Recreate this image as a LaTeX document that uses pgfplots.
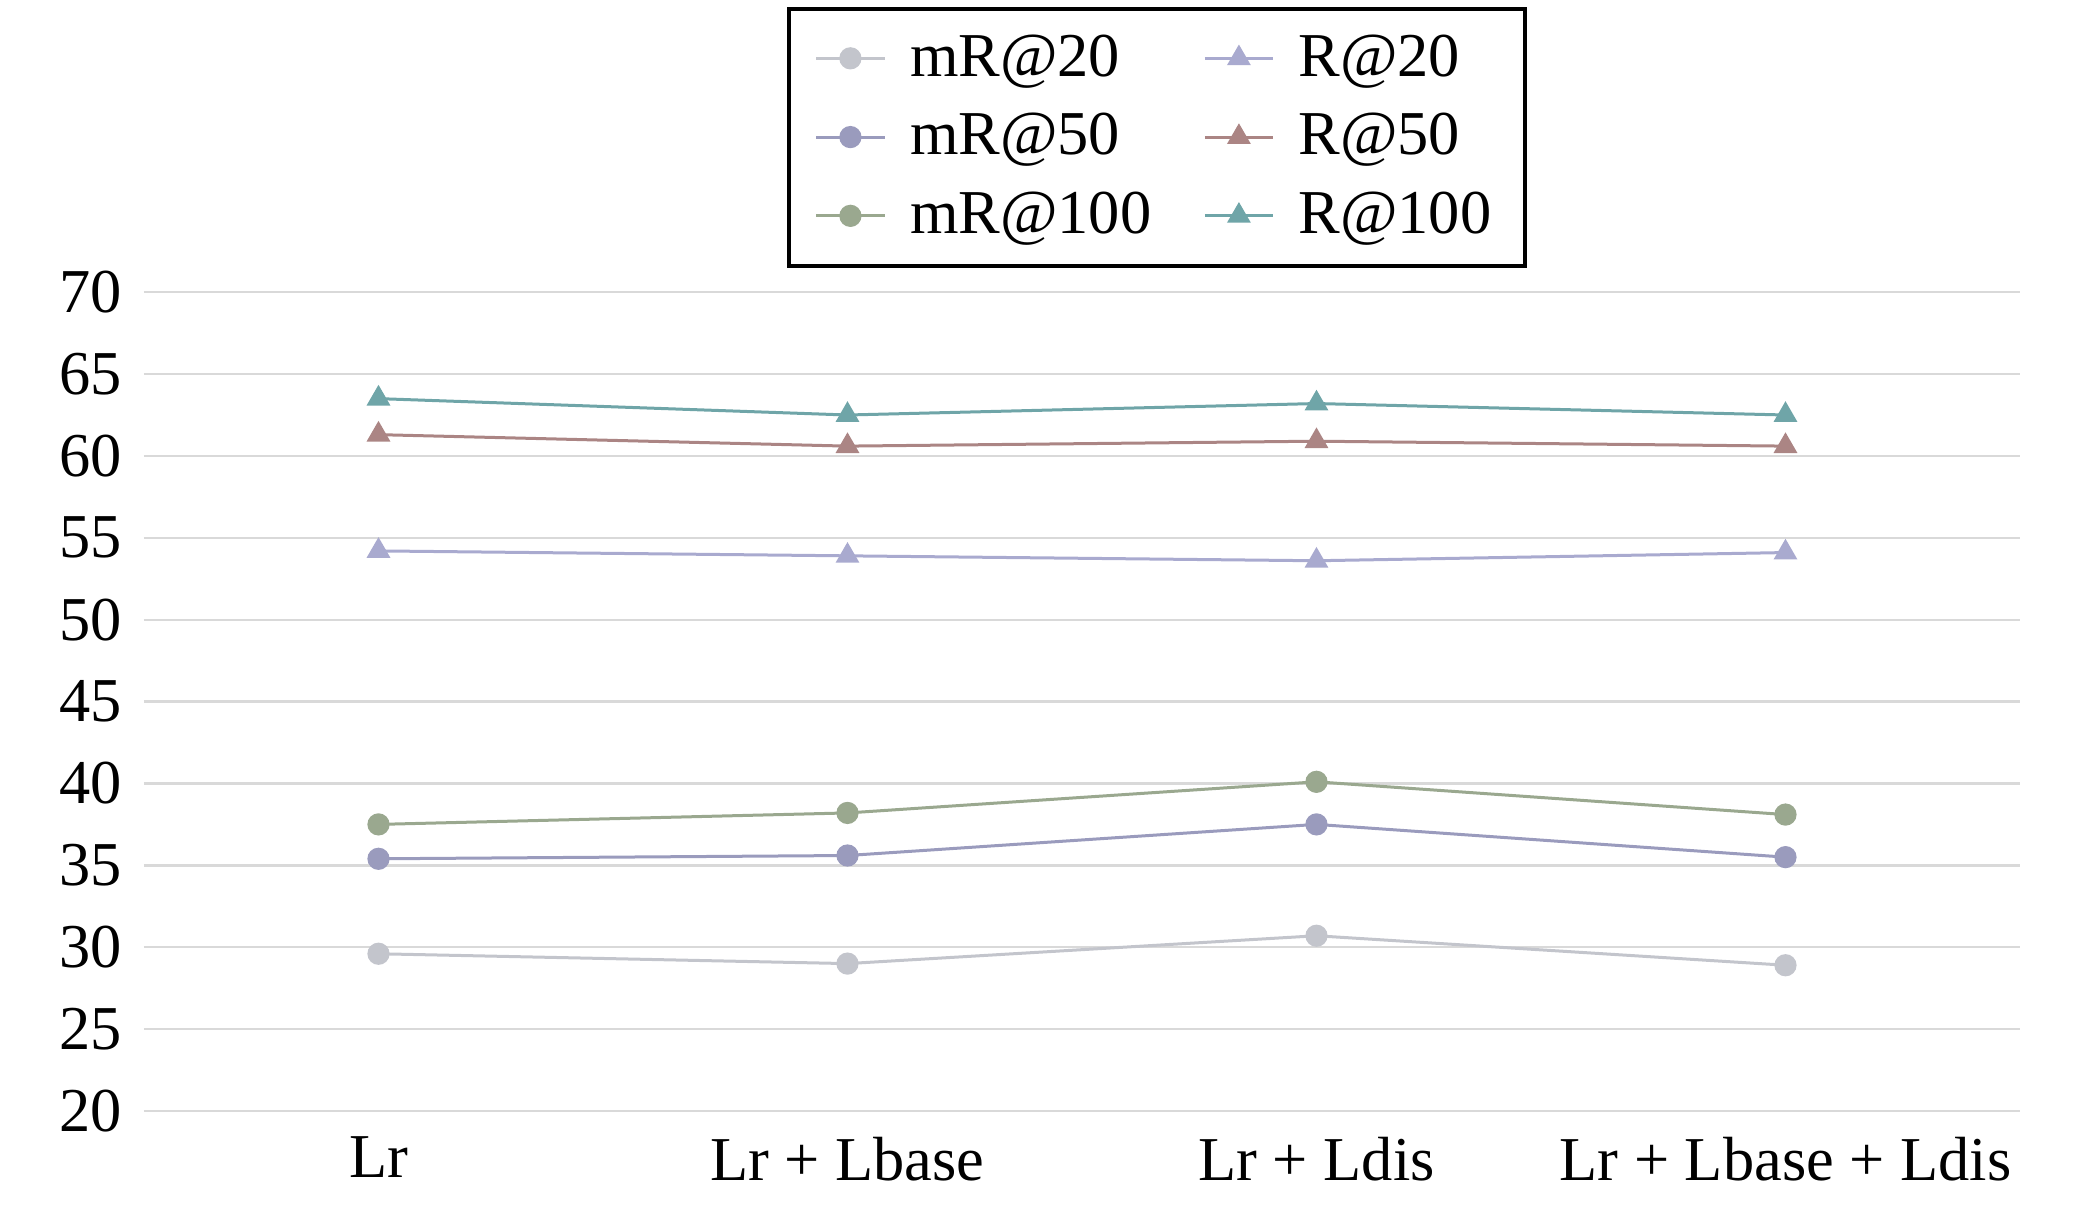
\documentclass[border=0pt]{standalone}
\usepackage{fontspec}
\setmainfont{Liberation Serif}
\usepackage{pgfplots}
\pgfplotsset{compat=1.18}
\definecolor{cA}{HTML}{C3C5CC}
\definecolor{cB}{HTML}{A9AACF}
\definecolor{cC}{HTML}{9A9BBD}
\definecolor{cD}{HTML}{AB8584}
\definecolor{cE}{HTML}{9AA88F}
\definecolor{cF}{HTML}{6FA5A8}
\definecolor{gridc}{HTML}{D9D9D9}
\begin{document}
\begin{tikzpicture}
\useasboundingbox (-36pt,-23.5pt) rectangle (483.75pt,277.75pt);
\begin{axis}[
  scale only axis,
  width=469pt, height=204.7pt,
  xmin=-0.5, xmax=3.5,
  ymin=20, ymax=70,
  ytick={20,25,...,70},
  xtick={0,1,2,3},
  xticklabels={Lr, Lr + Lbase, Lr + Ldis, Lr + Lbase + Ldis},
  axis line style={draw=none},
  major tick length=0pt,
  ymajorgrids,
  grid style={gridc, line width=0.6pt},
  /pgf/number format/assume math mode=true,
  tick label style={font=\fontsize{15.6}{18}\selectfont, text=black},
  yticklabel style={xshift=-2pt},
  xticklabel style={yshift=-3pt},
  legend columns=2,
  legend cell align=left,
  legend style={
    at={(0.54,1.03)}, anchor=south,
    draw=black, line width=1pt,
    font=\fontsize{15.6}{18}\selectfont,
    inner xsep=6.5pt, inner ysep=4.5pt,
    row sep=3.8pt,
    /tikz/every odd column/.append style={column sep=4pt},
    /tikz/every even column/.append style={column sep=11pt},
  },
  every axis plot/.append style={line width=0.75pt},
]
\addplot[cA, mark=*, mark size=2.4pt] coordinates {(0,29.6) (1,29.0) (2,30.7) (3,28.9)};
\addlegendentry{mR@20}
\addplot[cB, mark=triangle*, mark size=2.7pt] coordinates {(0,54.2) (1,53.9) (2,53.6) (3,54.1)};
\addlegendentry{R@20}
\addplot[cC, mark=*, mark size=2.4pt] coordinates {(0,35.4) (1,35.6) (2,37.5) (3,35.5)};
\addlegendentry{mR@50}
\addplot[cD, mark=triangle*, mark size=2.7pt] coordinates {(0,61.3) (1,60.6) (2,60.9) (3,60.6)};
\addlegendentry{R@50}
\addplot[cE, mark=*, mark size=2.4pt] coordinates {(0,37.5) (1,38.2) (2,40.1) (3,38.1)};
\addlegendentry{mR@100}
\addplot[cF, mark=triangle*, mark size=2.7pt] coordinates {(0,63.5) (1,62.5) (2,63.2) (3,62.5)};
\addlegendentry{R@100}
\end{axis}
\end{tikzpicture}
\end{document}
